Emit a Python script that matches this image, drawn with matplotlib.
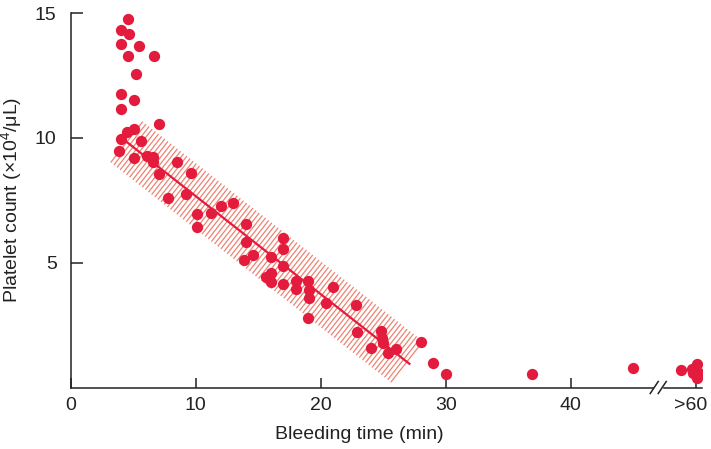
import numpy as np
import matplotlib
matplotlib.use("Agg")
import matplotlib.pyplot as plt
import matplotlib.transforms as mtransforms
from matplotlib.collections import LineCollection

plt.rcParams['font.family'] = ['Liberation Sans', 'DejaVu Sans']
plt.rcParams['mathtext.fontset'] = 'custom'
plt.rcParams['mathtext.rm'] = 'Liberation Sans'

# bleeding time (min, ">60" drawn at 50) and platelet count (x10^4/uL)
bleeding_time = [
    4.6, 4.0, 4.7, 4.0, 5.5, 4.6, 6.7, 5.2, 4.0, 5.1, 4.0, 7.1,
    5.1, 4.5, 4.0, 5.6, 3.9, 5.1, 6.1, 6.6, 6.6, 7.1, 8.5, 9.6, 7.8, 9.2,
    13.0, 12.0, 11.2, 10.1, 10.1, 14.0, 14.0, 14.6, 13.9, 16.0, 17.0, 17.0,
    17.0, 16.0, 15.6, 16.0, 17.0, 18.0, 18.0, 19.0, 19.1, 19.1, 21.0, 19.0,
    20.4, 22.8, 22.9, 24.8, 24.9, 25.0, 24.0, 25.4, 26.0, 28.0, 29.0, 30.0,
    36.9, 45.0, 48.8, 49.7, 49.8, 50.1, 50.1, 50.3,
]
platelet_count = [
    14.76, 14.3, 14.16, 13.75, 13.68, 13.27, 13.27, 12.55, 11.75, 11.51, 11.14, 10.54,
    10.34, 10.22, 9.94, 9.86, 9.46, 9.18, 9.26, 9.22, 9.02, 8.57, 9.02, 8.61, 7.61, 7.77,
    7.37, 7.25, 6.97, 6.93, 6.41, 6.53, 5.84, 5.3, 5.12, 5.24, 5.98, 5.56,
    4.88, 4.6, 4.44, 4.24, 4.16, 4.28, 3.96, 4.28, 3.92, 3.6, 4.04, 2.77,
    3.39, 3.31, 2.23, 2.27, 1.99, 1.79, 1.59, 1.39, 1.55, 1.83, 0.98, 0.54,
    0.54, 0.78, 0.7, 0.74, 0.58, 0.94, 0.38, 0.6,
]

# regression line and its band
fit_start, fit_end = 4.5, 27.1
fit_intercept, fit_slope = 11.6, -0.393
band_halfwidth_px = 26
hatch_step_px = 4

x_ticks = [0, 10, 20, 30, 40, 50]
x_tick_labels = ['0', '10', '20', '30', '40', '>60']
y_ticks = [5, 10, 15]
break_at = 47

red = '#e31b3c'
hatch_red = '#ee8272'
ink = '#222222'
fs = 14

fig = plt.figure(figsize=(7.11, 4.49), dpi=100)
ax = fig.add_axes([70.5 / 711, 61.5 / 449, 631.5 / 711, 374.5 / 449])
ax.set_xlim(0, 50.5)
ax.set_ylim(0, 15)

# hatched band: short strokes across the fit line
fit_x = np.array([fit_start, fit_end])
fit_y = fit_intercept + fit_slope * fit_x
p0, p1 = ax.transData.transform(np.column_stack([fit_x, fit_y]))
d = p1 - p0
length = np.hypot(*d)
u = d / length
n = np.array([-u[1], u[0]])
inv = ax.transData.inverted()
segs = []
for t in np.arange(0, length + 0.1, hatch_step_px):
    c = p0 + u * t
    segs.append(inv.transform([c + n * band_halfwidth_px, c - n * band_halfwidth_px]))
ax.add_collection(LineCollection(segs, colors=hatch_red, linewidths=0.9, zorder=1))

ax.plot(fit_x, fit_y, color=red, lw=1.6, zorder=2)
ax.scatter(bleeding_time, platelet_count, s=66, color=red, linewidths=0, zorder=3)

for side in ['top', 'right']:
    ax.spines[side].set_visible(False)
for side in ['left', 'bottom']:
    ax.spines[side].set_color(ink)
    ax.spines[side].set_linewidth(1.1)

ax.set_xticks(x_ticks)
ax.set_xticklabels(x_tick_labels)
ax.set_yticks(y_ticks)
ax.tick_params(axis='x', direction='in', length=7.2, width=1.1, color=ink,
               labelsize=fs, labelcolor=ink, pad=7)
ax.tick_params(axis='y', direction='in', length=8.5, width=1.1, color=ink,
               labelsize=fs, labelcolor=ink, pad=10)
# nudge ">60" a little left so it stays inside the figure
last = ax.get_xticklabels()[-1]
last.set_transform(last.get_transform() + mtransforms.ScaledTranslation(-4 / 72, 0, fig.dpi_scale_trans))

# axis break marks
bx, by = ax.transData.transform((break_at, 0))
ax.plot(*inv.transform([[bx - 3, by], [bx + 3, by]]).T, color='white', lw=2.5,
        clip_on=False, zorder=4)
for dx in (-4, 4):
    pts = inv.transform([[bx + dx - 4, by - 6], [bx + dx + 4, by + 6]])
    ax.plot(pts[:, 0], pts[:, 1], color=ink, lw=1.1, clip_on=False, zorder=5)

ax.set_xlabel('Bleeding time (min)', fontsize=fs, color=ink)
ax.xaxis.set_label_coords(0.458, -0.103)
ax.set_ylabel(r'Platelet count (×10$^{\mathregular{4}}$/μL)', fontsize=fs, color=ink, labelpad=7)

fig.savefig('out.png', dpi=100)
